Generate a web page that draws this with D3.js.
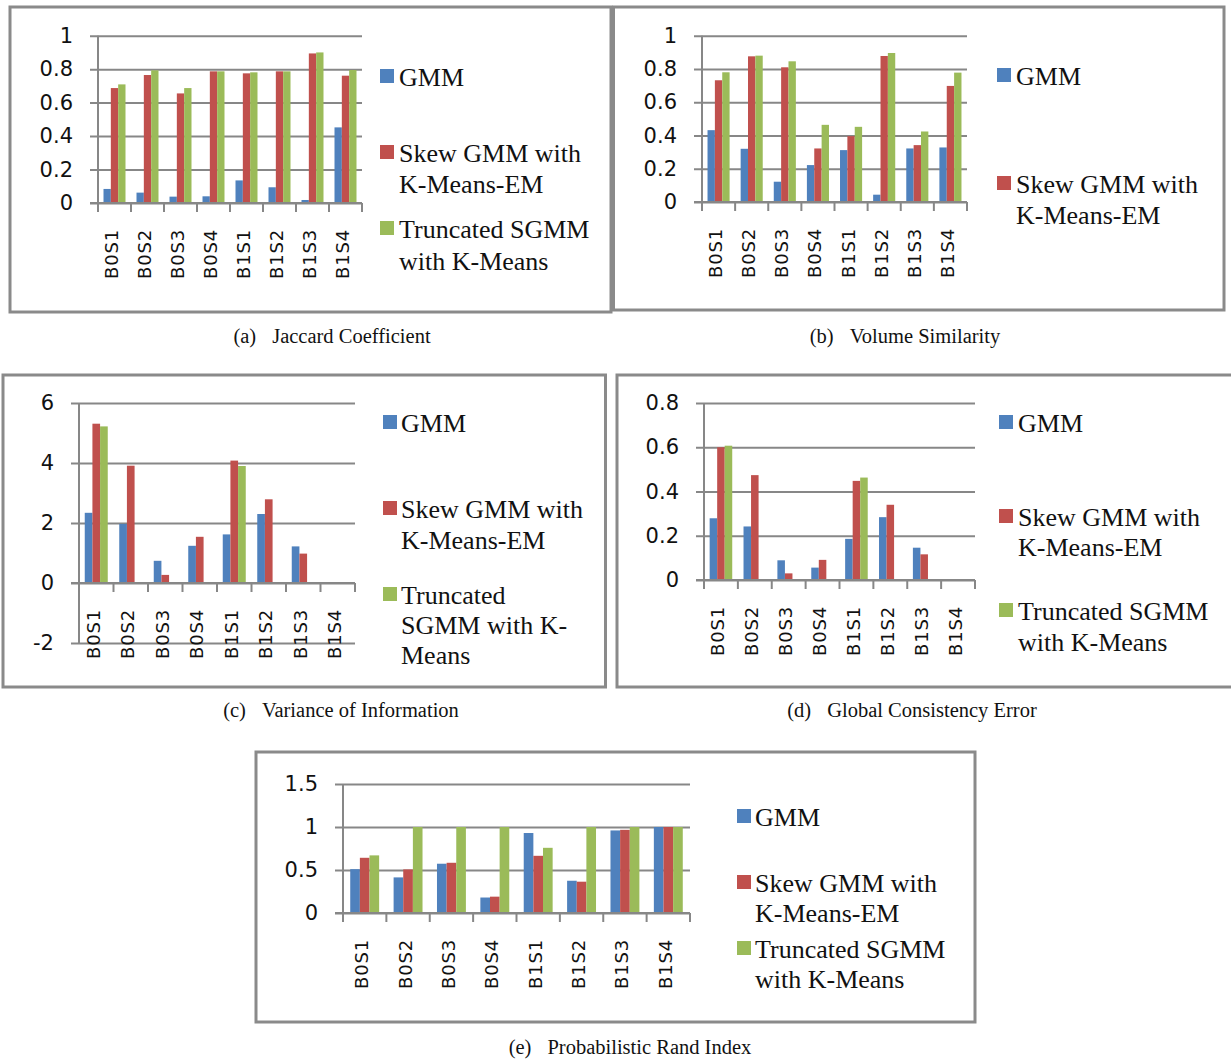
<!DOCTYPE html>
<html><head><meta charset="utf-8">
<script src="https://cdn.jsdelivr.net/npm/d3@7/dist/d3.min.js"></script>
<style>
html,body{margin:0;padding:0;background:#fff;}
svg{display:block;}
</style></head>
<body>
<svg id="chart" width="1231" height="1061"></svg>
<script>
// ---------- DATA ----------
const categories = ["B0S1","B0S2","B0S3","B0S4","B1S1","B1S2","B1S3","B1S4"];
const seriesNames = ["GMM","Skew GMM with K-Means-EM","Truncated SGMM with K-Means"];

const jaccardGMM   = [0.084,0.062,0.038,0.040,0.135,0.094,0.018,0.452];
const jaccardSkew  = [0.687,0.765,0.655,0.787,0.775,0.787,0.894,0.761];
const jaccardTrunc = [0.709,0.793,0.687,0.787,0.781,0.787,0.900,0.795];
const jaccardTicks = [0,0.2,0.4,0.6,0.8,1];

const volGMM   = [0.432,0.320,0.122,0.222,0.312,0.044,0.322,0.328];
const volSkew  = [0.732,0.876,0.810,0.322,0.396,0.878,0.342,0.698];
const volTrunc = [0.780,0.880,0.846,0.464,0.452,0.896,0.424,0.778];
const volTicks = [0,0.2,0.4,0.6,0.8,1];

const viGMM   = [2.34,1.97,0.74,1.24,1.62,2.30,1.22,0];
const viSkew  = [5.31,3.91,0.27,1.54,4.08,2.79,0.98,0];
const viTrunc = [5.22,0,0,0,3.90,0,0,0];
const viTicks = [-2,0,2,4,6];

const gceGMM   = [0.279,0.242,0.089,0.056,0.186,0.284,0.146,0];
const gceSkew  = [0.600,0.474,0.030,0.091,0.448,0.340,0.116,0];
const gceTrunc = [0.607,0,0,0,0.463,0,0,0];
const gceTicks = [0,0.2,0.4,0.6,0.8];

const priGMM   = [0.510,0.414,0.573,0.180,0.930,0.375,0.960,1.0];
const priSkew  = [0.642,0.507,0.584,0.190,0.665,0.364,0.967,1.0];
const priTrunc = [0.670,1.0,1.0,1.0,0.758,1.0,1.0,1.0];
const priTicks = [0,0.5,1,1.5];

const captions = ["Jaccard Coefficient","Volume Similarity","Variance of Information","Global Consistency Error","Probabilistic Rand Index"];
const captionLetters = ["(a)","(b)","(c)","(d)","(e)"];

// ---------- STYLE / LAYOUT ----------
const colors = ["#4F81BD","#C0504D","#9BBB59"];
const gridColor = "#878787";
const frameColor = "#8a8a8a";

const panels = [
  {frame:[10,7,611,312], x0:98, x1:362, yTop:35.7, yBot:203, ticks:jaccardTicks,
   series:[jaccardGMM,jaccardSkew,jaccardTrunc],
   leg:{sq:380, tx:399, entries:3, lines:[["GMM"],["Skew GMM with","K-Means-EM"],["Truncated SGMM","with K-Means"]], base:[[86],[162,193],[238,270]]},
   cap:{x:332, y:343}},
  {frame:[613.5,7,1224,310], x0:702, x1:967, yTop:35.7, yBot:202, ticks:volTicks,
   series:[volGMM,volSkew,volTrunc],
   leg:{sq:997, tx:1016, entries:2, lines:[["GMM"],["Skew GMM with","K-Means-EM"]], base:[[85],[193,224]]},
   cap:{x:905, y:343}},
  {frame:[3,375,605.5,687], x0:79, x1:355, yTop:403, yBot:643, ticks:viTicks,
   series:[viGMM,viSkew,viTrunc],
   leg:{sq:383, tx:401, entries:3, lines:[["GMM"],["Skew GMM with","K-Means-EM"],["Truncated","SGMM with K-","Means"]], base:[[432],[518,549],[604,634,664]]},
   cap:{x:341, y:717}},
  {frame:[617,375,1234,687], x0:704, x1:975, yTop:403, yBot:580, ticks:gceTicks,
   series:[gceGMM,gceSkew,gceTrunc],
   leg:{sq:999, tx:1018, entries:3, lines:[["GMM"],["Skew GMM with","K-Means-EM"],["Truncated SGMM","with K-Means"]], base:[[432],[526,556],[620,651]]},
   cap:{x:912, y:717}},
  {frame:[256,752,975,1022], x0:343, x1:690, yTop:784, yBot:913, ticks:priTicks,
   series:[priGMM,priSkew,priTrunc],
   leg:{sq:737, tx:755, entries:3, lines:[["GMM"],["Skew GMM with","K-Means-EM"],["Truncated SGMM","with K-Means"]], base:[[826],[892,922],[958,988]]},
   cap:{x:630, y:1054}}
];

const svg = d3.select("#chart");
svg.append("rect").attr("width",1231).attr("height",1061).attr("fill","#fff");

panels.forEach((p, pi) => {
  const g = svg.append("g");
  const [fx0,fy0,fx1,fy1] = p.frame;
  g.append("rect").attr("x",fx0).attr("y",fy0).attr("width",fx1-fx0).attr("height",fy1-fy0)
    .attr("fill","none").attr("stroke",frameColor).attr("stroke-width",3);

  const y = d3.scaleLinear().domain(d3.extent(p.ticks)).range([p.yBot, p.yTop]);
  const x = d3.scaleBand().domain(categories).range([p.x0, p.x1]).paddingInner(1/3).paddingOuter(1/6);
  const xs = d3.scaleBand().domain(d3.range(3)).range([0, x.bandwidth()]);
  const step = x.step();

  const fmt = d => String(+d.toFixed(2));
  const axisG = g.append("g").attr("transform",`translate(${p.x0-8},0)`)
    .call(d3.axisLeft(y).tickValues(p.ticks).tickFormat(fmt)
      .tickSizeInner(-(p.x1-p.x0+8)).tickSizeOuter(0).tickPadding(17));
  axisG.select(".domain").remove();
  axisG.selectAll(".tick line").attr("stroke",gridColor).attr("stroke-width",2);
  axisG.selectAll(".tick text").attr("font-family","'DejaVu Sans', sans-serif")
    .attr("font-size",21).attr("fill","#111");

  p.series.forEach((vals, si) => {
    g.append("g").selectAll("rect").data(vals).join("rect")
      .attr("x",(d,i)=> x(categories[i]) + xs(si))
      .attr("width", xs.bandwidth())
      .attr("y", d => Math.min(y(d), y(0)))
      .attr("height", d => Math.abs(y(0)-y(d)))
      .attr("fill", colors[si]);
  });

  g.append("line").attr("x1",p.x0).attr("x2",p.x0).attr("y1",p.yTop).attr("y2",p.yBot)
    .attr("stroke",gridColor).attr("stroke-width",2);
  const y0 = y(0);
  g.append("line").attr("x1",p.x0-8).attr("x2",p.x1).attr("y1",y0).attr("y2",y0)
    .attr("stroke",gridColor).attr("stroke-width",2);
  g.append("g").selectAll("line").data(d3.range(categories.length+1)).join("line")
    .attr("x1", i => p.x0 + i*step).attr("x2", i => p.x0 + i*step)
    .attr("y1", y0).attr("y2", y0+9)
    .attr("stroke",gridColor).attr("stroke-width",2);

  g.append("g").selectAll("text").data(categories).join("text")
    .attr("transform", c => `translate(${x(c)+x.bandwidth()/2-3},${y0+26}) rotate(-90)`)
    .attr("text-anchor","end").attr("dy","0.36em")
    .attr("font-family","'DejaVu Sans', sans-serif").attr("font-size",18)
    .attr("letter-spacing","0.8px").attr("fill","#111")
    .text(c => c);

  const L = p.leg;
  for (let e = 0; e < L.entries; e++) {
    g.append("rect").attr("x",L.sq).attr("y",L.base[e][0]-17).attr("width",14).attr("height",14)
      .attr("fill",colors[e]);
    L.lines[e].forEach((ln, li) => {
      g.append("text").attr("x",L.tx).attr("y",L.base[e][li])
        .attr("font-family","'Liberation Serif','Times New Roman',serif").attr("font-size",26)
        .attr("fill","#111").text(ln);
    });
  }

  const t = svg.append("text").attr("x",p.cap.x).attr("y",p.cap.y).attr("text-anchor","middle")
    .attr("font-family","'Liberation Serif','Times New Roman',serif").attr("font-size",20.5).attr("fill","#111");
  t.append("tspan").text(captionLetters[pi]);
  t.append("tspan").attr("dx",16).text(captions[pi]);
});
</script>
</body></html>
